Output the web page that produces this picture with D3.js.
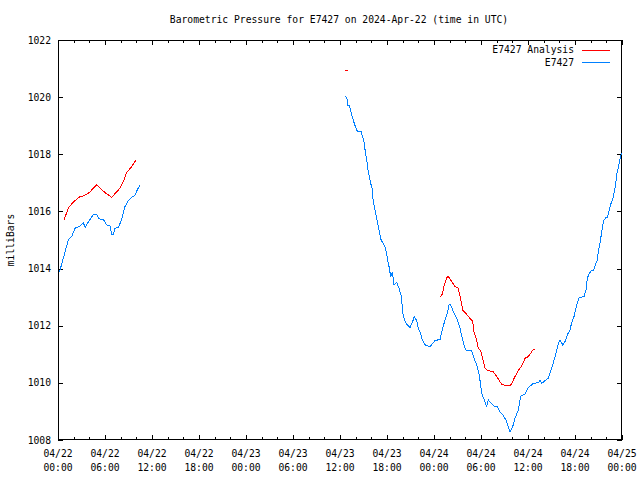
<!DOCTYPE html>
<html><head><meta charset="utf-8">
<script src="https://cdn.jsdelivr.net/npm/d3@7"></script>
<style>
body{margin:0;background:#fff;}
text{font-family:"DejaVu Sans Mono","Liberation Mono",monospace;font-size:9.7px;fill:#000;}
</style></head>
<body>
<svg id="chart" width="640" height="480"></svg>
<script>
// ---- data (hours after 2024-04-22 00:00 UTC, pressure in mb) ----
const title = "Barometric Pressure for E7427 on 2024-Apr-22 (time in UTC)";
const yLabel = "milliBars";
const seriesNames = ["E7427 Analysis", "E7427"];
const seriesColors = ["#ff0000", "#0080ff"];
const yTicks = [1008, 1010, 1012, 1014, 1016, 1018, 1020, 1022];
const xTickHours = [0, 6, 12, 18, 24, 30, 36, 42, 48, 54, 60, 66, 72];
const xTickDates = ["04/22","04/22","04/22","04/22","04/23","04/23","04/23","04/23","04/24","04/24","04/24","04/24","04/25"];
const xTickTimes = ["00:00","06:00","12:00","18:00","00:00","06:00","12:00","18:00","00:00","06:00","12:00","18:00","00:00"];

// E7427 observed (blue), segment 1
const obs1Hours = [0.2,0.68,1.31,1.75,2.17,2.81,3.23,3.45,4.09,4.51,4.94,5.27,5.78,6.22,6.64,6.86,7.06,7.28,7.70,8.13,8.55,8.97,9.41,9.83,10.12,10.47];
const obs1Values = [1013.89,1014.36,1015.0,1015.12,1015.41,1015.49,1015.61,1015.44,1015.72,1015.89,1015.89,1015.74,1015.72,1015.53,1015.49,1015.20,1015.20,1015.41,1015.44,1015.72,1016.17,1016.37,1016.49,1016.57,1016.75,1016.93];
// E7427 observed (blue), segment 2
const obs2Hours = [36.68,36.93,36.98,37.19,37.40,37.62,37.83,38.04,38.21,38.68,38.85,39.06,39.23,39.41,39.57,39.74,39.92,40.09,40.17,40.38,40.56,40.72,40.89,41.07,41.20,41.45,41.74,41.96,42.04,42.26,42.47,42.68,42.89,43.24,43.53,43.79,43.95,44.08,44.43,44.94,45.23,45.49,45.79,46.00,46.30,46.51,46.85,47.49,48.13,48.77,49.11,49.40,49.70,49.91,50.13,50.46,50.97,51.32,51.61,51.87,52.17,52.81,53.11,53.45,53.78,54.09,54.42,54.73,54.93,55.37,55.70,56.00,56.43,56.77,57.19,57.49,57.70,58.05,58.34,58.76,59.07,59.62,60.04,60.68,61.32,61.53,61.75,62.17,62.59,63.03,63.45,63.87,64.09,64.43,64.72,65.02,65.36,65.58,65.87,66.22,66.55,67.15,67.40,67.57,67.79,68.04,68.34,68.55,68.85,68.98,69.19,69.41,69.54,69.70,69.96,70.12,70.38,70.60,70.81,71.02,71.20,71.33,71.53,71.66,71.84,72.0];
const obs2Values = [1020.04,1019.92,1019.72,1019.70,1019.49,1019.26,1019.08,1018.91,1018.81,1018.80,1018.64,1018.44,1018.09,1017.80,1017.45,1017.22,1016.98,1016.81,1016.52,1016.17,1015.93,1015.70,1015.47,1015.23,1015.03,1014.91,1014.77,1014.53,1014.36,1014.07,1013.72,1013.89,1013.43,1013.51,1013.31,1013.08,1012.67,1012.32,1012.08,1011.94,1012.11,1012.32,1012.18,1011.91,1011.73,1011.50,1011.33,1011.27,1011.48,1011.52,1011.91,1012.20,1012.43,1012.73,1012.73,1012.49,1012.22,1011.91,1011.56,1011.27,1011.12,1011.12,1010.86,1010.63,1010.28,1009.63,1009.40,1009.17,1009.40,1009.26,1009.17,1009.19,1008.99,1008.88,1008.70,1008.47,1008.29,1008.47,1008.76,1009.05,1009.54,1009.60,1009.83,1009.98,1010.01,1010.08,1009.98,1010.08,1010.16,1010.51,1010.92,1011.38,1011.50,1011.33,1011.44,1011.68,1011.85,1012.11,1012.32,1012.73,1012.99,1013.02,1013.25,1013.66,1013.81,1013.92,1013.93,1014.09,1014.30,1014.59,1014.88,1015.29,1015.53,1015.70,1015.79,1015.79,1016.05,1016.28,1016.43,1016.69,1016.98,1017.30,1017.51,1017.74,1017.97,1018.04];

// E7427 Analysis (red), segments
const ana1Hours = [0.80,1.31,1.88,2.81,3.23,4.00,4.51,4.94,6.00,6.86,7.49,7.91,8.34,8.77,9.41,9.96];
const ana1Values = [1015.72,1016.11,1016.31,1016.52,1016.54,1016.66,1016.81,1016.93,1016.66,1016.49,1016.69,1016.81,1017.04,1017.36,1017.57,1017.80];
const ana2Hours = [36.62,36.98];
const ana2Values = [1020.95,1020.95];
const ana3Hours = [48.77,49.06,49.31,49.62,49.83,50.26,50.68,51.10,51.41,51.66,52.17,52.69,52.94,53.11,53.45,53.66,53.96,54.22,54.51,54.81,55.57,56.00,56.43,56.64,57.06,57.70,57.92,58.34,58.76,59.20,59.62,60.04,60.47,60.68,60.89];
const ana3Values = [1013.00,1013.11,1013.43,1013.68,1013.73,1013.54,1013.37,1013.31,1012.92,1012.55,1012.40,1012.22,1012.16,1011.79,1011.50,1011.21,1011.13,1010.86,1010.51,1010.43,1010.39,1010.22,1010.04,1009.95,1009.91,1009.89,1009.98,1010.22,1010.43,1010.59,1010.86,1010.92,1011.09,1011.17,1011.17];

// ---- layout ----
const L = 58, R = 622, T = 40, B = 440;
const svg = d3.select("#chart");
const x = d3.scaleLinear().domain([0, 72]).range([L, R]);
const y = d3.scaleLinear().domain([1008, 1022]).range([B, T]);

svg.append("defs").append("clipPath").attr("id","clip")
  .append("rect").attr("x",L).attr("y",T).attr("width",R-L).attr("height",B-T);

// frame
svg.append("rect").attr("x",L+0.5).attr("y",T+0.5).attr("width",R-L-1).attr("height",B-T-1)
  .attr("fill","none").attr("stroke","#000").attr("stroke-width",1).attr("shape-rendering","crispEdges");

// x ticks (every 2 h, major every 6 h) on bottom and top, pointing inward
const xMinor = d3.range(0, 73, 2);
const tg = svg.append("g").attr("stroke","#000").attr("shape-rendering","crispEdges");
xMinor.forEach(h => {
  const len = (h % 6 === 0) ? 5 : 3;
  const px = Math.round(x(h)) + 0.5;
  tg.append("line").attr("x1",px).attr("x2",px).attr("y1",B).attr("y2",B-len);
  tg.append("line").attr("x1",px).attr("x2",px).attr("y1",T).attr("y2",T+len);
});
yTicks.forEach(v => {
  const py = Math.round(y(v)) + 0.5;
  tg.append("line").attr("x1",L).attr("x2",L+5).attr("y1",py).attr("y2",py);
  tg.append("line").attr("x1",R).attr("x2",R-5).attr("y1",py).attr("y2",py);
});

// y tick labels
svg.append("g").selectAll("text").data(yTicks).join("text")
  .attr("x", 51).attr("y", d => y(d) + 3.5).attr("text-anchor","end").text(d => d);

// x tick labels
const xl = svg.append("g");
xTickHours.forEach((h, i) => {
  xl.append("text").attr("x", x(h)).attr("y", 457).attr("text-anchor","middle").text(xTickDates[i]);
  xl.append("text").attr("x", x(h)).attr("y", 471).attr("text-anchor","middle").text(xTickTimes[i]);
});

// title and axis label
svg.append("text").attr("x", 339).attr("y", 23).attr("text-anchor","middle").text(title);
svg.append("text").attr("transform","translate(14,240) rotate(-90)").attr("text-anchor","middle").text(yLabel);

// lines
const line = d3.line().x(d => x(d[0])).y(d => y(d[1]));
const plot = svg.append("g").attr("clip-path","url(#clip)");
function drawSeries(hours, values, color){
  plot.append("path").datum(hours.map((h,i)=>[h, values[i]]))
    .attr("d", line).attr("fill","none").attr("stroke", color).attr("stroke-width",1)
    .attr("shape-rendering","crispEdges");
}
drawSeries(obs1Hours, obs1Values, seriesColors[1]);
drawSeries(obs2Hours, obs2Values, seriesColors[1]);
drawSeries(ana1Hours, ana1Values, seriesColors[0]);
drawSeries(ana2Hours, ana2Values, seriesColors[0]);
drawSeries(ana3Hours, ana3Values, seriesColors[0]);

// legend
const leg = svg.append("g");
seriesNames.forEach((n, i) => {
  const ly = 49.5 + i * 12.5;
  leg.append("text").attr("x", 574).attr("y", ly + 3.5).attr("text-anchor","end").text(n);
  leg.append("line").attr("x1", 582).attr("x2", 610).attr("y1", Math.round(ly)+0.5).attr("y2", Math.round(ly)+0.5)
    .attr("stroke", seriesColors[i]).attr("stroke-width",1).attr("shape-rendering","crispEdges");
});
</script>
</body></html>
